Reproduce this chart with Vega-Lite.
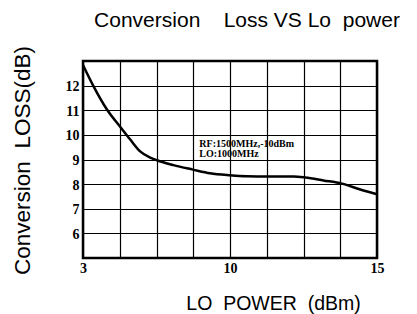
{
  "$schema": "https://vega.github.io/schema/vega-lite/v6.json",
  "width": 294,
  "height": 197,
  "autosize": {"type": "none"},
  "padding": {"left": 83, "top": 61, "right": 40, "bottom": 56},
  "background": "white",
  "title": {
    "text": "Conversion\u00a0\u00a0\u00a0\u00a0Loss VS Lo\u00a0\u00a0power",
    "font": "Liberation Sans",
    "fontSize": 21,
    "fontWeight": "normal",
    "color": "black",
    "anchor": "middle",
    "dx": 17,
    "offset": 15
  },
  "config": {
    "view": {"stroke": "black", "strokeWidth": 2.5},
    "axis": {
      "domain": false,
      "ticks": false,
      "grid": true,
      "gridColor": "black",
      "gridOpacity": 1,
      "gridWidth": 1.2,
      "labelOverlap": false,
      "labelFont": "Liberation Serif",
      "labelFontWeight": "bold",
      "labelFontSize": 14,
      "labelColor": "black",
      "titleFont": "Liberation Sans",
      "titleFontWeight": "normal",
      "titleColor": "black"
    }
  },
  "datasets": {
    "curve": [
      {"lo": 3.0, "loss": 12.84},
      {"lo": 3.51, "loss": 11.96},
      {"lo": 4.14, "loss": 11.03},
      {"lo": 4.77, "loss": 10.33},
      {"lo": 5.25, "loss": 9.81},
      {"lo": 5.72, "loss": 9.33},
      {"lo": 6.20, "loss": 9.08},
      {"lo": 6.52, "loss": 8.97},
      {"lo": 7.31, "loss": 8.77},
      {"lo": 8.23, "loss": 8.59},
      {"lo": 9.05, "loss": 8.44},
      {"lo": 10.0, "loss": 8.36},
      {"lo": 10.57, "loss": 8.32},
      {"lo": 11.27, "loss": 8.31},
      {"lo": 12.16, "loss": 8.31},
      {"lo": 12.56, "loss": 8.27},
      {"lo": 13.18, "loss": 8.15},
      {"lo": 13.81, "loss": 8.02},
      {"lo": 14.43, "loss": 7.78},
      {"lo": 15.0, "loss": 7.59}
    ],
    "note": [
      {"lo": 8.54, "loss": 9.62, "label": "RF:1500MHz,-10dBm"},
      {"lo": 8.54, "loss": 9.22, "label": "LO:1000MHz"}
    ]
  },
  "encoding": {
    "x": {
      "field": "lo",
      "type": "quantitative",
      "scale": {"domain": [3, 10, 15], "range": [0, 147, 294], "nice": false, "zero": false},
      "axis": {
        "values": [3, 4.75, 6.5, 8.25, 10, 11.25, 12.5, 13.75, 15],
        "labelExpr": "datum.value == 3 || datum.value == 10 || datum.value == 15 ? datum.label : ''",
        "labelPadding": 3,
        "labelFlush": false,
        "title": "LO\u00a0\u00a0POWER\u00a0\u00a0(dBm)",
        "titleFontSize": 19.5,
        "titleX": 190,
        "titleY": 45,
        "titleAlign": "center",
        "titleBaseline": "middle"
      }
    },
    "y": {
      "field": "loss",
      "type": "quantitative",
      "scale": {"domain": [5, 13], "nice": false, "zero": false},
      "axis": {
        "values": [5, 6, 7, 8, 9, 10, 11, 12, 13],
        "labelExpr": "datum.value == 5 || datum.value == 13 ? '' : datum.label",
        "labelPadding": 4,
        "labelOffset": 1,
        "title": "Conversion\u00a0\u00a0LOSS(dB)",
        "titleFontSize": 22.5,
        "titleAngle": 270,
        "titleX": -61,
        "titleY": 99,
        "titleAlign": "center",
        "titleBaseline": "middle"
      }
    }
  },
  "layer": [
    {
      "data": {"name": "curve"},
      "mark": {"type": "line", "color": "black", "strokeWidth": 2.5, "interpolate": "monotone"}
    },
    {
      "data": {"name": "note"},
      "mark": {"type": "text", "align": "left", "baseline": "middle", "font": "Liberation Serif", "fontWeight": "bold", "fontSize": 10, "color": "black"},
      "encoding": {
        "text": {"field": "label"}
      }
    }
  ]
}
